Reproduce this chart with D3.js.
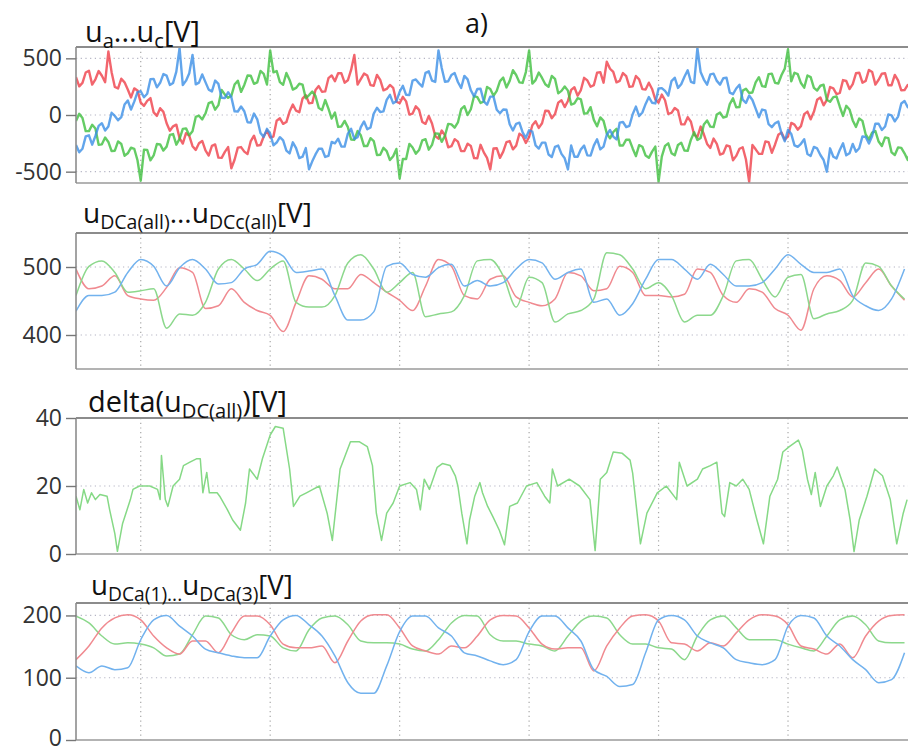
<!DOCTYPE html>
<html><head><meta charset="utf-8">
<script src="https://cdn.jsdelivr.net/npm/d3@7"></script>
<style>body{margin:0;background:#fff}svg{display:block}</style>
</head><body><svg id="c" width="908" height="749"></svg>
<script>
// ---------- DATA ----------
// time axis in ms; vertical grid every 10 ms
const timeGrid = [5, 15, 25, 35, 45, 55];
const timeDomain = [0, 64.5];

// panel 1: phase voltages, samples at 0, 0.5, 1.0 ... ms
const uStep = 0.5;
const uA = [333,283,391,315,346,560,248,320,225,235,
109,125,23,60,-73,-100,-204,-160,-275,-250,
-313,-273,-376,-325,-470,-288,-323,-230,-270,-190,
-199,-50,-78,30,38,145,104,220,205,325,
298,368,306,530,316,348,258,310,230,240,
104,120,13,45,-78,-75,-209,-180,-275,-235,
-318,-273,-381,-330,-480,-293,-323,-230,-270,-185,
-194,-55,-73,35,8,130,124,245,220,305,
263,378,470,380,301,343,253,315,225,230,
109,130,18,40,-83,-60,-194,-170,-290,-255,
-338,-278,-361,-285,-590,-303,-343,-240,-260,-155,
-189,-85,-98,30,28,155,134,235,195,300,
273,373,301,380,311,368,263,305,220,235];
const uB = [-53,-26,-142,-120,-259,-238,-315,-256,-338,-298,
-580,-308,-357,-259,-279,-168,-210,-118,-143,-6,
13,116,87,180,169,303,265,346,288,363,
570,388,267,309,239,268,175,168,43,56,
22,-101,-107,-220,-179,-273,-230,-351,-318,-363,
-560,-388,-287,-309,-214,-263,-165,-183,-83,-66,
78,51,157,120,229,213,330,301,353,283,
570,308,327,249,319,213,215,103,138,16,
-43,-21,-162,-150,-269,-218,-295,-266,-358,-323,
-590,-273,-337,-264,-314,-218,-220,-83,-103,4,
-22,96,67,215,194,288,255,361,283,353,
580,373,282,349,239,258,135,158,73,81,
-48,-31,-172,-155,-234,-198,-330,-286,-338,-303];
const uC = [-265,-298,-179,-185,-72,-101,-8,-19,128,118,
210,188,319,284,347,283,590,303,530,286,
290,208,274,150,157,31,33,-66,-38,-193,
-165,-243,-224,-339,-292,-368,-480,-348,-298,-361,
-250,-278,-164,-210,-107,-126,12,26,133,103,
205,178,304,279,372,303,570,293,353,291,
345,218,229,120,162,46,48,-81,-78,-153,
-135,-268,-244,-349,-282,-343,-480,-368,-303,-356,
-270,-303,-174,-190,-67,-106,7,-9,98,108,
235,213,299,239,337,293,590,313,358,301,
325,198,234,135,172,56,48,-81,-73,-163,
-130,-268,-254,-344,-282,-353,-500,-368,-308,-356,
-255,-293,-194,-185,-77,-101,-3,-14,123,118];
// panel 1: in-between samples at 0.25, 0.75, 1.25 ... ms
const uAh = [253,375,268,388,290,378,234,288,155,217,80,149,-8,28,-139,-85,-252,-185,-308,-229,-358,-260,-378,-283,-395,-283,-344,-183,-265,-137,-190,-29,-62,92,24,175,107,255,208,349,
368,285,398,268,365,263,354,218,265,117,160,4,77,-62,-9,-185,-137,-285,-213,-319,-253,-380,-263,-378,-295,-378,-239,-303,-165,-247,-90,-114,38,-28,109,70,222,170,328,249,
373,285,408,288,370,248,344,228,285,137,180,9,62,-82,-19,-175,-102,-255,-208,-349,-268,-400,-298,-393,-265,-343,-234,-333,-175,-217,-70,-129,8,-38,134,85,247,185,308,229,
368,285,398,268,365,263,354,218,265];
const uBh = [10,-142,-86,-262,-199,-319,-233,-360,-288,-399,-307,-400,-256,-314,-176,-262,-122,-178,-17,-39,105,47,221,152,269,204,348,275,388,269,377,290,371,224,276,147,207,63,132,-31,
-105,-52,-216,-142,-274,-204,-353,-290,-398,-299,-387,-255,-341,-224,-306,-162,-237,-78,-112,51,0,167,106,247,169,299,243,395,288,379,277,375,271,344,191,252,92,148,12,69,
-100,-52,-206,-122,-269,-219,-363,-280,-378,-279,-367,-250,-356,-244,-316,-152,-202,-48,-107,21,-15,147,71,232,199,334,248,365,278,409,297,360,241,334,216,267,117,163,-8,49,
-105,-52,-216,-142,-274,-204,-353,-290,-398];
const uCh = [-329,-189,-262,-96,-137,20,-46,92,48,202,157,316,244,361,265,382,264,368,270,358,224,304,152,201,32,75,-64,13,-158,-122,-267,-196,-314,-241,-380,-292,-409,-298,-370,-238,
-209,-279,-122,-196,-57,-110,64,32,178,122,257,176,314,251,385,292,414,298,370,238,314,164,232,91,162,15,46,-137,-68,-202,-147,-296,-244,-371,-270,-382,-269,-368,-270,-358,
-214,-279,-132,-216,-62,-95,74,22,158,102,237,171,329,271,395,282,379,268,365,268,329,184,267,106,132,-20,41,-107,-58,-232,-167,-281,-214,-361,-295,-397,-294,-383,-250,-338,
-324,-189,-252,-76,-132,5,-56,102,68];

// panel 2: DC voltages per phase, sampled every 1 ms
const dcStep = 1;
const dcA = [497,468,472,487,458,453,451,470,499,492,439,443,468,448,436,429,405,448,487,482,468,468,489,477,463,451,436,472,511,501,458,453,482,487,456,448,443,453,492,487,465,468,501,492,458,458,456,460,497,492,458,448,468,463,439,429,407,468,487,480,456,477,497,472,451];
const dcB = [458,501,509,492,463,465,468,410,431,429,448,497,511,497,480,497,509,448,441,441,458,506,518,497,463,477,492,427,431,434,458,509,511,487,441,485,477,419,431,436,453,521,518,497,468,477,458,419,429,429,458,509,511,482,456,485,489,424,431,436,451,506,501,472,453];
const dcC = [435,458,458,463,492,511,501,472,499,511,497,475,477,497,504,523,516,492,494,497,458,422,422,434,501,506,489,485,499,504,472,480,472,477,497,511,506,482,492,497,448,453,429,446,482,511,511,497,482,504,489,472,472,477,497,518,504,492,492,497,458,443,436,453,497];

// panel 3: delta of DC voltages (time in ms, value in V)
const deltaT = [0,0.3,0.6,0.9,1.2,1.5,1.85,2.4,2.6,3.0,3.2,3.6,4.2,4.4,4.9,5.7,6.3,6.5,6.6,6.9,7.1,7.5,8.0,8.3,8.8,9.3,9.6,9.8,10.1,10.3,10.9,11.1,11.7,12.1,12.7,13.1,13.4,14.0,14.4,15.0,15.4,16.0,16.5,16.8,17.3,17.8,18.3,18.8,19.4,19.8,20.4,21.2,21.9,22.5,22.9,23.2,23.6,24.0,24.5,25.0,25.8,26.3,26.6,26.9,27.3,27.9,28.3,28.9,29.3,29.5,29.8,30.2,30.4,30.8,31.2,31.4,31.8,32.2,32.7,33.1,33.5,34.1,34.8,35.6,36.2,36.6,36.8,37.2,38.1,38.9,39.7,40.1,40.5,41.0,41.5,42.2,42.8,43.0,43.6,44.1,44.9,45.6,46.4,46.6,47.2,48.0,48.4,49.0,49.5,49.9,50.1,50.5,51.0,51.5,52.0,52.6,53.1,53.6,54.2,54.6,55.1,55.8,56.1,56.5,56.8,57.1,57.5,58.0,58.5,58.8,59.4,59.8,60.1,60.5,61.1,61.7,62.3,62.9,63.4,63.9,64.2];
const deltaV = [17,13,19,15,18,16,17.5,17,13,6,0.8,9,16,19,20,20,19,16,29,16,14,20,22,26,27,28,28,18,24,18,18,17,13,10,7,15,25,22,28,35,37.5,37,25,14,17,18,19,20,12,4,25,33,33,31.6,26,12,4,12,15,20,21,19,13,22,19,25.5,26.6,26,23,20,12,3,10,17,21,18,14,11,7,2.7,14,15,20,21,17,15,25,20,22,20,16,1,22,24,30,29.6,27.6,23.8,3,12,18,20,16,27,20,22,25,26,27,12,11,21,20,22,19,10,3,17,22,30,31.6,33.5,30.6,22,17.5,24,14,20,23,25.6,19,10,0.7,10,17,25,23,16,3,12,16];

// panel 4: DC voltages of modules 1..3 in phase a, sampled every 1 ms
const m1 = [129,151,180,196,201,193,167,148,138,159,159,140,172,199,199,185,154,148,148,151,124,159,191,201,201,180,151,143,138,151,148,167,193,200,199,180,154,146,148,148,111,151,180,199,201,191,156,154,143,156,151,172,193,201,199,185,151,146,138,154,132,167,191,200,201];
const m2 = [199,188,167,154,156,154,148,135,138,169,199,196,169,161,169,167,148,143,177,196,199,185,159,156,156,154,146,143,161,188,200,199,169,159,159,154,151,143,167,191,199,196,169,154,154,148,146,129,167,193,199,180,161,161,161,154,148,143,167,193,199,185,159,156,156];
const m3 = [119,108,119,113,116,161,193,200,183,167,146,140,135,132,132,167,193,200,185,167,135,92,75,75,119,174,199,199,180,167,140,135,127,121,129,174,199,199,180,159,113,102,86,89,140,193,200,193,167,156,148,129,124,121,129,183,200,196,167,151,129,113,92,97,140];

const ticks1 = [500, 0, -500];
const ticks2 = [500, 400];
const ticks3 = [40, 20, 0];
const ticks4 = [200, 100, 0];

// ---------- DRAW ----------
const svg = d3.select("#c");
const FONT = "'Open Sans', 'Liberation Sans', sans-serif";
const x = d3.scaleLinear().domain(timeDomain).range([76, 911]);

// merge full-step and half-step samples into one time-ordered series
function merged(full, half, step) {
  const a = full.map((v, k) => [k * step, v]);
  const b = half.map((v, k) => [k * step + step / 2, v]);
  return a.concat(b).sort((p, q) => p[0] - q[0]);
}

const panels = [
  {top:47, bottom:183, domain:[-600,600], ticks:ticks1, curve:d3.curveLinear,
   title:[["u",0],["a",1],["...u",0],["c",1],["[V]",0]], tx:85, ty:42, tw:115,
   series:[{pts:merged(uA,uAh,uStep),c:"#ef3e48",w:2.4},{pts:merged(uB,uBh,uStep),c:"#3fbf3f",w:2.4},{pts:merged(uC,uCh,uStep),c:"#3b8fe6",w:2.4}], op:0.8},
  {top:233, bottom:369, domain:[350,550], ticks:ticks2, curve:d3.curveMonotoneX,
   title:[["u",0],["DCa(all)",1],["...u",0],["DCc(all)",1],["[V]",0]], tx:83, ty:223, tw:229,
   series:[{d:dcA,step:dcStep,c:"#f08a90",w:1.5},{d:dcB,step:dcStep,c:"#8cd88c",w:1.5},{d:dcC,step:dcStep,c:"#72b2ee",w:1.5}], op:1},
  {top:418, bottom:554, domain:[0,40], ticks:ticks3, curve:d3.curveLinear,
   title:[["delta(u",0],["DC(all)",1],[")[V]",0]], tx:88, ty:412, tw:199,
   series:[{t:deltaT,d:deltaV,c:"#86d986",w:1.5}], op:1},
  {top:603, bottom:740, domain:[0,220], ticks:ticks4, curve:d3.curveMonotoneX,
   title:[["u",0],["DCa(1)...",1],["u",0],["DCa(3)",1],["[V]",0]], tx:91, ty:595, tw:202,
   series:[{d:m2,step:dcStep,c:"#8cd88c",w:1.5},{d:m1,step:dcStep,c:"#f08a90",w:1.5},{d:m3,step:dcStep,c:"#72b2ee",w:1.5}], op:1}
];

const L = 76, R = 911;
panels.forEach((p, i) => {
  const y = d3.scaleLinear().domain(p.domain).range([p.bottom, p.top]);
  const g = svg.append("g");
  const cid = "clip" + i;
  svg.append("clipPath").attr("id", cid).append("rect")
    .attr("x", L).attr("y", p.top).attr("width", R - L).attr("height", p.bottom - p.top);

  // grid
  g.selectAll(".vg").data(timeGrid).join("line")
    .attr("x1", d => x(d)).attr("x2", d => x(d)).attr("y1", p.top).attr("y2", p.bottom)
    .attr("stroke", "#a8a8a8").attr("stroke-width", 1.2).attr("stroke-dasharray", "1.2,3.5");
  g.selectAll(".hg").data(p.ticks.filter(v => y(v) > p.top + 2 && y(v) < p.bottom - 2)).join("line")
    .attr("x1", L).attr("x2", R).attr("y1", d => y(d)).attr("y2", d => y(d))
    .attr("stroke", "#b4b4c4").attr("stroke-width", 1.2).attr("stroke-dasharray", "1.2,3.5");

  // series
  const lg = g.append("g").attr("clip-path", `url(#${cid})`);
  p.series.forEach(s => {
    const pts = s.pts || s.d.map((v, k) => [s.t ? s.t[k] : k * s.step, v]);
    lg.append("path").datum(pts)
      .attr("d", d3.line().curve(p.curve).x(d => x(d[0])).y(d => y(d[1])))
      .attr("fill", "none").attr("stroke", s.c).attr("stroke-width", s.w)
      .attr("stroke-opacity", p.op).attr("stroke-linejoin", "round");
  });

  // frame
  g.append("line").attr("x1", L).attr("x2", R).attr("y1", p.top).attr("y2", p.top)
    .attr("stroke", "#8c8c8c").attr("stroke-width", 2.2);
  g.append("line").attr("x1", L).attr("x2", R).attr("y1", p.bottom).attr("y2", p.bottom)
    .attr("stroke", "#9a9a9a").attr("stroke-width", 1.6);
  g.append("line").attr("x1", L).attr("x2", L).attr("y1", p.top).attr("y2", p.bottom)
    .attr("stroke", "#8c8c8c").attr("stroke-width", 1.6);

  // y axis ticks + labels
  const ax = d3.axisLeft(y).tickValues(p.ticks).tickSize(10).tickPadding(4).tickFormat(d3.format("d"));
  const ag = svg.append("g").attr("transform", `translate(${L},0)`).call(ax);
  ag.select(".domain").remove();
  ag.selectAll(".tick line").attr("stroke", "#777").attr("stroke-width", 1.4);
  ag.selectAll(".tick text").attr("font-family", FONT).attr("font-size", 23).attr("fill", "#333")
    .text(d => d < 0 ? "-" + Math.abs(d) : d)
    .attr("dy", d => (y(d) > 735 ? "0.22em" : "0.32em"));

  // title (fit to the width it has in the original)
  const t = svg.append("text").attr("x", p.tx).attr("y", p.ty)
    .attr("font-family", FONT).attr("fill", "#111");
  const spans = p.title.map(([s, sub]) => t.append("tspan").text(s)
      .attr("baseline-shift", sub ? "-30%" : null).datum(sub));
  const apply = k => spans.forEach(sp => sp.attr("font-size", (sp.datum() ? 16 : 23) * k));
  apply(1);
  const w = t.node().getComputedTextLength();
  apply(Math.min(1.35, Math.max(0.8, p.tw / w)));
});

svg.append("text").attr("x", 465).attr("y", 33).text("a)")
  .attr("font-family", FONT).attr("font-size", 27).attr("fill", "#111");
</script></body></html>
